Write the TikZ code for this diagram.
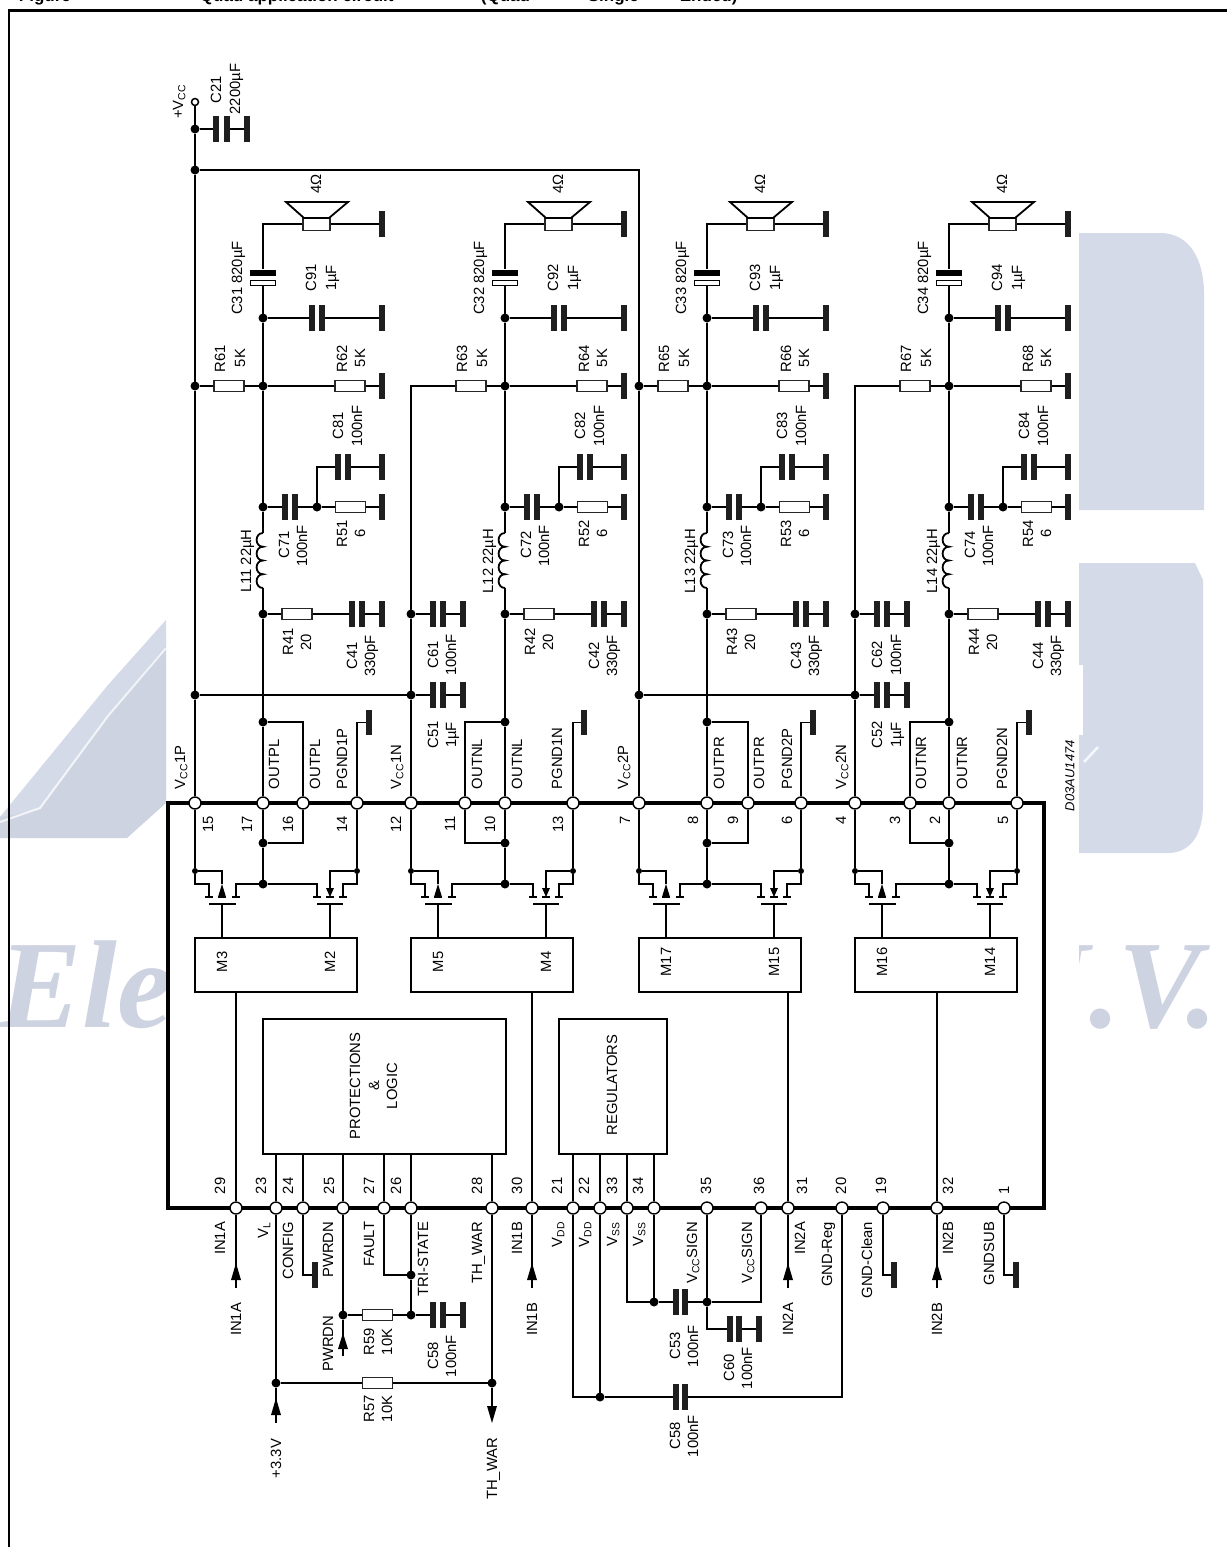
\documentclass[tikz,border=0pt]{standalone}
\usepackage{fontspec}
\setmainfont{Liberation Sans}
\newfontfamily\wmfont{Liberation Serif}
\newcounter{lb}
\definecolor{wmc}{HTML}{D5DAE8}
\definecolor{wmd}{HTML}{CED3E2}
\newcommand{\Vs}[1]{V\textsubscript{#1}}
\newcommand{\Lc}[3]{\stepcounter{lb}\node[lbl] (lb\thelb) at (#1,#2) {#3};}
\newcommand{\Lw}[3]{\stepcounter{lb}\node[lbl,anchor=west] (lb\thelb) at (#1,#2) {#3};}
\newcommand{\Le}[3]{\stepcounter{lb}\node[lbl,anchor=east] (lb\thelb) at (#1,#2) {#3};}
% capacitor to ground: name, from-node, x1, x2, xground, y
\newcommand{\CapG}[6]{%
  \node[plate] (#1a) at (#3,#6) {};
  \node[plate] (#1b) at (#4,#6) {};
  \node[gndbar] (#1g) at (#5,#6) {};
  \draw (#2) -- (#1a);
  \draw (#1b) -- (#1g);}
\newcommand{\ArrU}[2]{\fill (#1,#2) -- (#1-5,#2+17) -- (#1+5,#2+17) -- cycle;}
\newcommand{\ArrD}[2]{\fill (#1,#2) -- (#1-5,#2-17) -- (#1+5,#2-17) -- cycle;}
% output filter of one channel, drawn in channel-1 coordinates
\newcommand{\Chan}[4]{%
 \begin{scope}[xshift=#2pt]
  \node[res,minimum width=27pt,minimum height=13pt] (spk#1) at (316.5,224) {};
  \draw[fill=white] (286,202) -- (348,202) -- (329,218) -- (304,218) -- cycle;
  \node[gndbar] (spg#1) at (382,224) {};
  \draw (spk#1) -- (spg#1);
  \node[rectangle,fill=black,minimum width=26pt,minimum height=5.5pt,inner sep=0pt] (cp#1) at (263,273) {};
  \node[rectangle,draw,fill=white,line width=1.3pt,minimum width=25pt,minimum height=5pt,inner sep=0pt] (cq#1) at (263,283) {};
  \draw (spk#1) -| (cp#1);
  \node[dotn] (d9#1) at (263,318) {};
  \draw (cq#1) -- (d9#1);
  \CapG{c9#1}{d9#1}{312}{322}{382}{318}
  \node[dotn] (d6#1) at (263,386) {};
  \node[res] (rl#1) at (229,386) {};
  \node[res] (rr#1) at (350,386) {};
  \node[gndbar] (rg#1) at (382,386) {};
  \draw (rl#1) -- (d6#1);
  \draw (d6#1) -- (rr#1);
  \draw (rr#1) -- (rg#1);
  \draw (d9#1) -- (d6#1);
  \node[dotn] (d7#1) at (263,507) {};
  \draw (d6#1) -- (d7#1);
  \node[plate] (c7#1a) at (285,507) {};
  \node[plate] (c7#1b) at (295,507) {};
  \node[dotn] (d5#1) at (317,507) {};
  \node[res] (r5#1) at (350.5,507) {};
  \node[gndbar] (r5g#1) at (382,507) {};
  \draw (d7#1) -- (c7#1a);
  \draw (c7#1b) -- (d5#1);
  \draw (d5#1) -- (r5#1);
  \draw (r5#1) -- (r5g#1);
  \node[plate] (c8#1a) at (338,467) {};
  \node[plate] (c8#1b) at (348,467) {};
  \node[gndbar] (c8#1g) at (382,467) {};
  \draw (d5#1) |- (c8#1a);
  \draw (c8#1b) -- (c8#1g);
  \coordinate (lt#1) at (263,533);
  \coordinate (lb#1) at (263,588);
  \draw (d7#1) -- (lt#1);
  \draw (lt#1) \foreach \i in {0,1,2,3} { .. controls (254.5,533+13.75*\i) and (254.5,533+13.75+13.75*\i) .. (263,533+13.75+13.75*\i) };
  \node[dotn] (d4#1) at (263,614) {};
  \draw (lb#1) -- (d4#1);
  \node[res] (r4#1) at (297,614) {};
  \draw (d4#1) -- (r4#1);
  \node[plate] (c4#1a) at (352,614) {};
  \node[plate] (c4#1b) at (362,614) {};
  \node[gndbar] (c4#1g) at (382,614) {};
  \draw (r4#1) -- (c4#1a);
  \draw (c4#1b) -- (c4#1g);
  \node[dotn] (do#1) at (263,722) {};
  \draw (d4#1) -- (do#1);
  \Lc{316}{184}{4Ω}
  \Lc{237}{278}{C3#1 820µF}
  \Lc{311}{278}{C9#1}
  \Lc{331}{278}{1µF}
  \Lc{220}{359}{R#3}
  \Lc{240}{358}{5K}
  \Lc{342}{359}{R#4}
  \Lc{360}{358}{5K}
  \Lc{338}{426}{C8#1}
  \Lc{357}{426}{100nF}
  \Lc{342}{534}{R5#1}
  \Lc{360}{533}{6}
  \Lc{284}{545}{C7#1}
  \Lc{302}{546}{100nF}
  \Lc{246}{561}{L1#1 22µH}
  \Lc{288}{642}{R4#1}
  \Lc{306}{642}{20}
  \Lc{352}{656}{C4#1}
  \Lc{370}{656}{330pF}
 \end{scope}}
% output stage: id, left x, output x, pins (left, out, out2, right), drivers
\newcommand{\Bridge}[9]{%
  \node[sdot] (fa#1) at (#2,871) {};
  \node[sdot] (fb#1) at (#2+162,871) {};
  \node[dotn] (fo#1) at (#3,884) {};
  \node[dotn] (lp#1) at (#3,843) {};
  \draw (do#1) -- (#5);
  \draw (do#1) -| (#6);
  \draw (#5) -- (lp#1);
  \draw (lp#1) -| (#6);
  \draw (lp#1) -- (fo#1);
  \draw (#4) -- (fa#1);
  \draw (#7) -- (fb#1);
  \draw (fa#1) -- (#2,884) -| (#2+14,897);
  \draw (fa#1) -| (#2+27,884);
  \fill (#2+27,884) -- (#2+23,897) -- (#2+31,897) -- cycle;
  \draw (fo#1) -| (#2+41,897);
  \draw (fo#1) -| (#2+122,897);
  \draw (fb#1) -| (#2+135,888);
  \fill (#2+135,897) -- (#2+131,888) -- (#2+139,888) -- cycle;
  \draw (fb#1) -- (#2+162,884) -| (#2+148,897);
  \foreach \t in {14,27,41,122,135,148} {\draw (#2+\t-4,897) -- (#2+\t+4,897);}
  \draw (#2+14,904) -- (#2+41,904);
  \draw (#2+122,904) -- (#2+148,904);
  \node[box,minimum width=162pt,minimum height=54pt] (mb#1) at (#2+81,965) {};
  \coordinate (gl#1) at (#2+27,904);
  \coordinate (gr#1) at (#2+135,904);
  \draw (gl#1) -- (gl#1 |- mb#1.north);
  \draw (gr#1) -- (gr#1 |- mb#1.north);
  \Lc{#2+27}{962}{#8}
  \Lc{#2+135}{962}{#9}}
\tikzset{
  lbl/.style={rotate=90,font=\fontsize{14.8}{16}\selectfont,inner sep=0pt,text height=10.4pt,text depth=0pt},
  pinc/.style={circle,draw,fill=white,line width=1.4pt,minimum size=12pt,inner sep=0pt},
  dotn/.style={circle,fill=black,minimum size=9pt,inner sep=0pt,outer sep=0pt},
  sdot/.style={circle,fill=black,minimum size=6pt,inner sep=0pt,outer sep=0pt},
  res/.style={rectangle,draw=black!85,fill=white,line width=1.4pt,minimum width=30pt,minimum height=11pt,inner sep=0pt},
  plate/.style={rectangle,fill=black!88,minimum width=5.5pt,minimum height=26pt,inner sep=0pt,outer sep=0pt},
  gndbar/.style={rectangle,fill=black!88,minimum width=5.5pt,minimum height=26pt,inner sep=0pt,outer sep=0pt},
  box/.style={rectangle,draw,fill=white,line width=1.8pt,inner sep=0pt},
  wmt/.style={text=wmd,font=\fontsize{125}{130}\selectfont\wmfont\bfseries\itshape,inner sep=0pt,anchor=base west},
  head/.style={font=\fontsize{17}{20}\selectfont\bfseries,inner sep=0pt,anchor=base west}
}
\begin{document}
\begin{tikzpicture}[x=1pt,y=-1pt,line width=1.8pt]
\useasboundingbox (0,0) rectangle (1226,1547);
\fill[white] (0,0) rectangle (1226,1547);
% watermark
\fill[wmd] (166,803) -- (127,838) -- (0,838) -- (0,817) -- (166,640) -- cycle;
\fill[wmc] (166,620) -- (108,685) -- (0,817) -- (40,810) -- (108,715) -- (166,645) -- cycle;
\draw[white,opacity=.75,line width=2pt] (166,648) -- (108,716) -- (40,808) -- (0,822);
\begin{scope}
  \clip (0,900) rectangle (166,1060);
  \node[wmt] (wmEle) at (-2,1027) {Ele};
\end{scope}
\begin{scope}
  \clip (1079,900) rectangle (1226,1060);
  \node[wmt] (wmV) at (1118,1027) {V.};
  \node[wmt,anchor=base east] (wmN) at (1122,1027) {N.};
\end{scope}
\fill[wmc] (1079,233) -- (1160,233) .. controls (1190,233) and (1204,260) .. (1204,294) -- (1204,510) -- (1079,510) -- cycle;
\fill[wmc] (1079,563) -- (1195,563) -- (1203,580) -- (1203,805) .. controls (1203,835) and (1190,853) .. (1168,853) -- (1079,853) -- (1079,735) -- (1083,735) -- (1083,665) -- (1079,665) -- cycle;
\draw[white,opacity=.8,line width=2.5pt] (1084,762) -- (1098,747);
% frame and heading
\draw[line width=2.4pt] (9,1560) -- (9,10.5) -- (1240,10.5);
\node[head] (hd1) at (18,1.5) {Figure};
\node[head] (hd2) at (199,1.5) {Quad application circuit};
\node[head] (hd3) at (480,1.5) {(Quad};
\node[head] (hd4) at (587,1.5) {Single};
\node[head] (hd5) at (679,1.5) {Ended)};
% chip and pins
\node[rectangle,draw,fill=white,line width=4.5pt,minimum width=876pt,minimum height=405pt,inner sep=0pt] (chip) at (606,1005.5) {};
\foreach \n/\x in {15/195,17/263,16/303,14/357,12/411,11/465,10/505,13/573,7/639,8/707,9/748,6/801,4/855,3/910,2/949,5/1017}
  {\node[pinc] (pin\n) at (\x,803) {};}
\foreach \n/\x in {29/236,23/276,24/303,25/343,27/384,26/411,28/492,30/532,21/573,22/600,33/627,34/654,35/707,36/761,31/788,20/842,19/883,32/937,1/1004}
  {\node[pinc] (pin\n) at (\x,1208) {};}
% channels
\Chan{1}{0}{61}{62}
\Chan{2}{242}{63}{64}
\Chan{3}{444}{65}{66}
\Chan{4}{686}{67}{68}
% supply rail
\node[circle,draw,fill=white,line width=1.5pt,minimum size=7pt,inner sep=0pt] (vcc) at (195,102) {};
\node[dotn] (dc21) at (195,129) {};
\node[dotn] (dbus) at (195,170) {};
\node[dotn] (dr61) at (195,386) {};
\node[dotn] (dc51) at (195,695) {};
\draw (vcc) -- (dc21);
\draw (dc21) -- (dbus);
\draw (dbus) -- (dr61);
\draw (dr61) -- (dc51);
\draw (dc51) -- (pin15);
\draw (dr61) -- (rl1);
\CapG{c21}{dc21}{216}{227}{247}{129}
\node[dotn] (dr65) at (639,386) {};
\node[dotn] (dc52) at (639,695) {};
\draw (dbus) -| (dr65);
\draw (dr65) -- (dc52);
\draw (dc52) -- (pin7);
\draw (dr65) -- (rl3);
% second rails
\node[dotn] (d61) at (411,614) {};
\node[dotn] (d51) at (411,695) {};
\draw (rl2) -| (d61);
\draw (d61) -- (d51);
\draw (d51) -- (pin12);
\draw (dc51) -- (d51);
\CapG{c61}{d61}{433}{443}{463}{614}
\node[plate] (c51a) at (433,695) {};
\node[plate] (c51b) at (443,695) {};
\node[gndbar] (c51g) at (463,695) {};
\draw (d51) -- (c51a);
\draw (c51b) -- (c51g);
\node[dotn] (d62) at (855,614) {};
\node[dotn] (d52) at (855,695) {};
\draw (rl4) -| (d62);
\draw (d62) -- (d52);
\draw (d52) -- (pin4);
\draw (dc52) -- (d52);
\CapG{c62}{d62}{877}{887}{907}{614}
\node[plate] (c52a) at (877,695) {};
\node[plate] (c52b) at (887,695) {};
\node[gndbar] (c52g) at (907,695) {};
\draw (d52) -- (c52a);
\draw (c52b) -- (c52g);
% power ground pins
\foreach \p/\x in {14/369,13/584,6/813,5/1029}
  {\node[gndbar,minimum height=25pt] (pg\p) at (\x,722.5) {};
   \draw (pin\p) |- (pg\p);}
% output stages
\Bridge{1}{195}{263}{pin15}{pin17}{pin16}{pin14}{M3}{M2}
\Bridge{2}{411}{505}{pin12}{pin10}{pin11}{pin13}{M5}{M4}
\Bridge{3}{639}{707}{pin7}{pin8}{pin9}{pin6}{M17}{M15}
\Bridge{4}{855}{949}{pin4}{pin2}{pin3}{pin5}{M16}{M14}
\draw (pin29 |- mb1.south) -- (pin29);
\draw (pin30 |- mb2.south) -- (pin30);
\draw (pin31 |- mb3.south) -- (pin31);
\draw (pin32 |- mb4.south) -- (pin32);
% inner blocks
\node[box,minimum width=243pt,minimum height=135pt] (prot) at (384.5,1086.5) {};
\node[box,minimum width=108pt,minimum height=135pt] (regs) at (613,1086.5) {};
\foreach \p in {23,24,25,27,26,28} {\draw (pin\p |- prot.south) -- (pin\p);}
\foreach \p in {21,22,33,34} {\draw (pin\p |- regs.south) -- (pin\p);}
\Lc{355}{1086}{PROTECTIONS}
\Lc{374}{1086}{\&}
\Lc{392}{1086}{LOGIC}
\Lc{612}{1085}{REGULATORS}
% lower side wiring
\foreach \p/\x in {29/236,30/532,31/788,32/937}
  {\coordinate (tl\p) at (\x,1288);
   \draw (pin\p) -- (tl\p);
   \ArrU{\x}{1263}}
\node[dotn] (d33) at (276,1383) {};
\node[dotn] (dth) at (492,1383) {};
\node[res] (r57) at (377.5,1383) {};
\draw (pin23) -- (d33);
\draw (d33) -- (r57);
\draw (r57) -- (dth);
\draw (pin28) -- (dth);
\coordinate (tl33) at (276,1423);
\draw (d33) -- (tl33);
\ArrU{276}{1398}
\coordinate (tlth) at (492,1406);
\draw (dth) -- (tlth);
\ArrD{492}{1423}
\node[gndbar] (gcfg) at (315,1275) {};
\draw (pin24) |- (gcfg);
\node[dotn] (dpw) at (343,1315) {};
\node[dotn] (dts) at (411,1315) {};
\node[dotn] (dfl) at (411,1275) {};
\node[res] (r59) at (377.5,1315) {};
\draw (pin25) -- (dpw);
\draw (dpw) -- (r59);
\draw (r59) -- (dts);
\draw (pin27) |- (dfl);
\draw (pin26) -- (dfl);
\draw (dfl) -- (dts);
\coordinate (tlpw) at (343,1356);
\draw (dpw) -- (tlpw);
\fill (343,1333) -- (338,1349) -- (348,1349) -- cycle;
\CapG{c58}{dts}{433}{443}{463}{1315}
\node[dotn] (dvdd) at (600,1397) {};
\node[plate] (c58a) at (676,1397) {};
\node[plate] (c58b) at (685,1397) {};
\draw (pin21) |- (dvdd);
\draw (pin22) -- (dvdd);
\draw (dvdd) -- (c58a);
\draw (c58b) -| (pin20);
\node[dotn] (dvss) at (654,1302) {};
\node[dotn] (dsg) at (707,1302) {};
\node[plate] (c53a) at (676,1302) {};
\node[plate] (c53b) at (685,1302) {};
\draw (pin33) |- (dvss);
\draw (pin34) -- (dvss);
\draw (dvss) -- (c53a);
\draw (c53b) -- (dsg);
\draw (pin35) -- (dsg);
\draw (dsg) -| (pin36);
\node[plate] (c60a) at (730,1329) {};
\node[plate] (c60b) at (739,1329) {};
\node[gndbar] (c60g) at (759,1329) {};
\draw (dsg) |- (c60a);
\draw (c60b) -- (c60g);
\node[gndbar] (gclean) at (894,1275) {};
\draw (pin19) |- (gclean);
\node[gndbar] (gsub) at (1016,1275) {};
\draw (pin1) |- (gsub);
% labels
\Lc{178}{102}{+\Vs{CC}}
\Lc{216}{90}{C21}
\Lc{235}{89}{2200µF}
\foreach \x/\t in {180/{\Vs{CC}1P},274/OUTPL,315/OUTPL,342/PGND1P,396/{\Vs{CC}1N},477/OUTNL,517/OUTNL,557/PGND1N,623/{\Vs{CC}2P},719/OUTPR,759/OUTPR,787/PGND2P,841/{\Vs{CC}2N},921/OUTNR,962/OUTNR,1002/PGND2N}
  {\Lw{\x}{790}{\t}}
\foreach \x/\t in {208/15,247/17,288/16,342/14,396/12,450/11,490/10,558/13,625/7,693/8,733/9,787/6,841/4,895/3,935/2,1003/5}
  {\Le{\x}{815}{\t}}
\foreach \x/\t in {220/29,261/23,288/24,329/25,369/27,396/26,477/28,517/30,557/21,584/22,612/33,638/34,706/35,759/36,802/31,841/20,881/19,948/32,1004/1}
  {\Lw{\x}{1195}{\t}}
\foreach \x/\t in {220/IN1A,263/{\Vs{L}},288/CONFIG,328/PWRDN,369/FAULT,423/TRI-STATE,477/TH\_WAR,517/IN1B,557/{\Vs{DD}},584/{\Vs{DD}},612/{\Vs{SS}},638/{\Vs{SS}},692/{\Vs{CC}SIGN},747/{\Vs{CC}SIGN},800/IN2A,827/GND-Reg,867/GND-Clean,948/IN2B,989/GNDSUB}
  {\Le{\x}{1221}{\t}}
\foreach \x/\t in {236/IN1A,532/IN1B,788/IN2A,937/IN2B}
  {\Le{\x}{1302}{\t}}
\Le{276}{1438}{+3.3V}
\Le{492}{1437}{TH\_WAR}
\Le{328}{1315}{PWRDN}
\Lc{369}{1342}{R59}
\Lc{387}{1342}{10K}
\Lc{369}{1409}{R57}
\Lc{387}{1409}{10K}
\Lc{433}{1356}{C58}
\Lc{451}{1356}{100nF}
\Lc{433}{655}{C61}
\Lc{451}{655}{100nF}
\Lc{433}{735}{C51}
\Lc{451}{735}{1µF}
\Lc{877}{655}{C62}
\Lc{896}{655}{100nF}
\Lc{877}{735}{C52}
\Lc{896}{735}{1µF}
\Lc{675}{1346}{C53}
\Lc{693}{1346}{100nF}
\Lc{729}{1368}{C60}
\Lc{747}{1368}{100nF}
\Lc{675}{1436}{C58}
\Lc{693}{1436}{100nF}
\node[rotate=90,font=\fontsize{13}{15}\selectfont\itshape,inner sep=0pt,anchor=west] (dref) at (1070,812) {D03AU1474};
\end{tikzpicture}
\end{document}
